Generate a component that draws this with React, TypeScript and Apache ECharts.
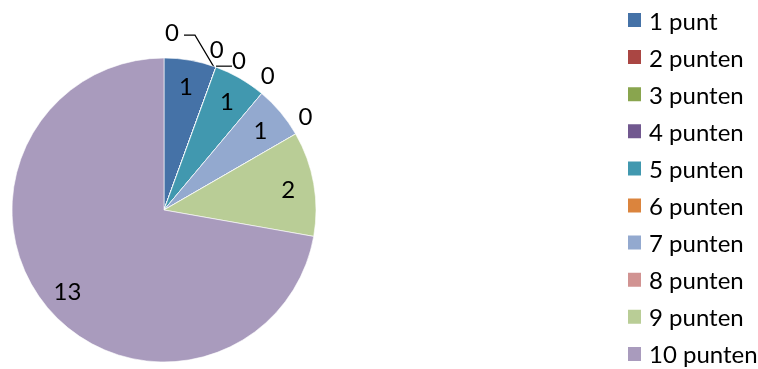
import { useEffect, useRef } from 'react';
import * as echarts from 'echarts';

// Score distribution: number of entries per score
const categories = ['1 punt', '2 punten', '3 punten', '4 punten', '5 punten', '6 punten', '7 punten', '8 punten', '9 punten', '10 punten'];
const counts = [1, 0, 0, 0, 1, 0, 1, 0, 2, 13];
const palette = ['#4572A7', '#AA4643', '#89A54E', '#71588F', '#4198AF', '#DB843D', '#93A9CF', '#D19392', '#B9CD96', '#A99BBD'];

const FONT = 'Lato, "Open Sans", sans-serif';
const CENTER = [164, 210];
const RADIUS = 152;

// Point on the pie rim where an empty category sits (clockwise from 12 o'clock)
function rimPoint(index: number): [number, number] {
  const total = counts.reduce((a, b) => a + b, 0);
  const before = counts.slice(0, index).reduce((a, b) => a + b, 0);
  const mid = ((before + counts[index] / 2) / total) * Math.PI * 2;
  return [CENTER[0] + RADIUS * Math.sin(mid), CENTER[1] - RADIUS * Math.cos(mid)];
}

// Outside labels for empty categories; labels sharing one rim point are fanned out
function zeroLabelLayout(params: any) {
  const i = params.dataIndex;
  if (counts[i] !== 0) return {};
  const [ex, ey] = rimPoint(i);
  let k = 0;
  for (let j = i - 1; j >= 0 && counts[j] === 0; j--) k++;
  const dirX = (ex - CENTER[0]) / RADIUS;
  if (k === 1) {
    return {
      x: ex + 23, y: ey - 8, align: 'center', verticalAlign: 'middle',
      labelLinePoints: [[ex, ey - 1], [ex + 8, ey - 1], [ex + 16, ey - 1]],
    };
  }
  if (k >= 2) {
    return {
      x: ex - 44, y: ey - 36, align: 'center', verticalAlign: 'middle',
      labelLinePoints: [[ex - 2, ey], [ex - 21, ey - 32], [ex - 32, ey - 32]],
    };
  }
  return {
    x: ex + dirX * 17 - 5, y: ey - 19, align: 'center', verticalAlign: 'middle',
    labelLinePoints: [[ex, ey], [ex, ey], [ex, ey]],
  };
}

export default function App() {
  const ref = useRef<HTMLDivElement>(null);

  useEffect(() => {
    if (!ref.current) return;
    const chart = echarts.init(ref.current, null, { renderer: 'svg' });

    // Sectors plus outside labels for empty categories
    const sectorData = categories.map((name, i) => ({
      name,
      value: counts[i],
      label: { show: counts[i] === 0 },
      labelLine: { show: counts[i] === 0 },
    }));
    // Transparent ring carrying the in-sector value labels
    const ringData = categories.map((name, i) => ({
      name,
      value: counts[i],
      label: { show: counts[i] !== 0 },
    }));

    chart.setOption({
      animation: false,
      color: palette,
      legend: {
        data: categories,
        orient: 'vertical',
        left: 626,
        top: 8,
        bottom: -40,
        padding: 0,
        itemWidth: 15,
        itemHeight: 16,
        itemGap: 13.1,
        icon: 'rect',
        selectedMode: false,
        textStyle: { fontFamily: FONT, fontSize: 24, color: '#000', padding: [0, 0, 0, 2] },
      },
      series: [
        {
          type: 'pie',
          center: CENTER,
          radius: [0, RADIUS],
          startAngle: 90,
          clockwise: true,
          silent: true,
          avoidLabelOverlap: false,
          itemStyle: { borderColor: '#ffffff', borderWidth: 0.6 },
          label: {
            position: 'outside',
            fontFamily: FONT,
            fontSize: 24,
            color: '#000',
            formatter: '{c}',
          },
          labelLine: { length: 0, length2: 0, lineStyle: { color: '#000', width: 1.2 } },
          labelLayout: zeroLabelLayout,
          data: sectorData,
        },
        {
          type: 'pie',
          center: CENTER,
          radius: [94, RADIUS],
          startAngle: 90,
          clockwise: true,
          silent: true,
          itemStyle: { color: 'rgba(0,0,0,0)' },
          label: {
            position: 'inside',
            fontFamily: FONT,
            fontSize: 24,
            color: '#000',
            formatter: '{c}',
          },
          labelLine: { show: false },
          data: ringData,
        },
      ],
    });

    return () => chart.dispose();
  }, []);

  return <div ref={ref} style={{ position: 'fixed', left: 0, top: 0, width: 758, height: 369 }} />;
}
